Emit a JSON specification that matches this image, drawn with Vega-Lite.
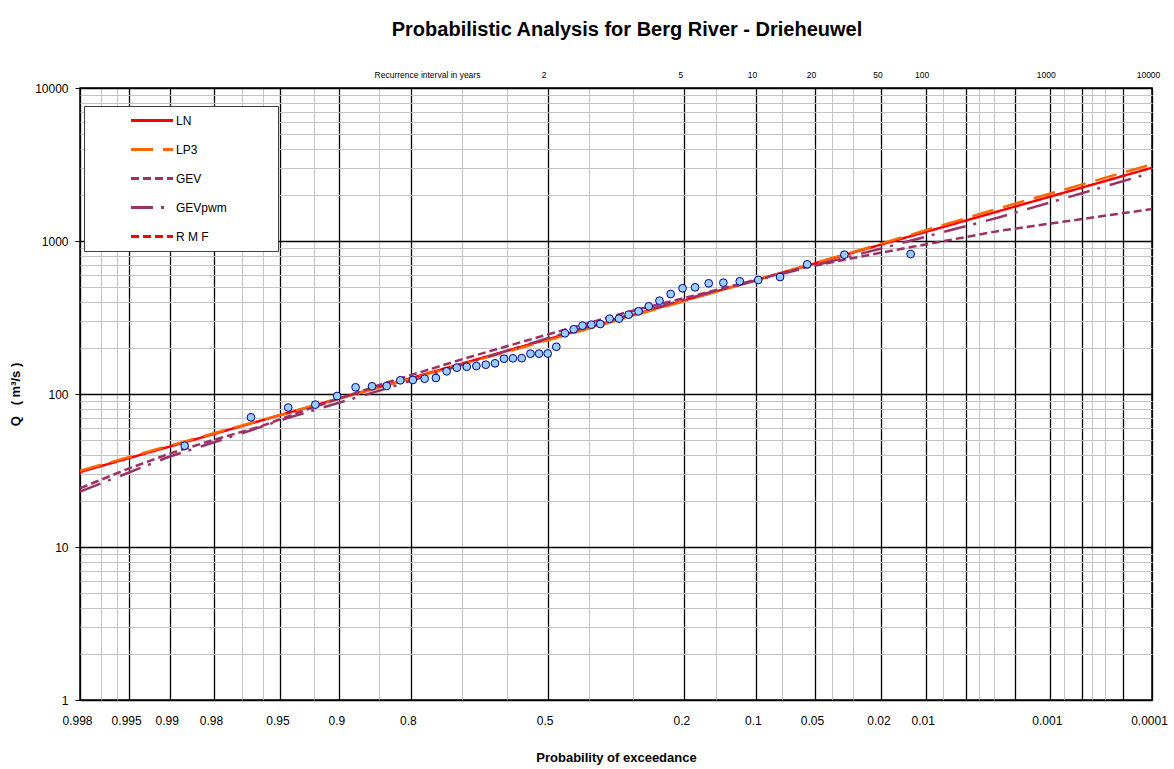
{
  "$schema": "https://vega.github.io/schema/vega-lite/v6.json",
  "width": 1072,
  "height": 612,
  "autosize": {"type": "none"},
  "padding": {"left": 80, "top": 88, "right": 22, "bottom": 69},
  "background": "white",
  "config": {
    "font": "Liberation Sans",
    "view": {"stroke": "black", "strokeWidth": 1.5}
  },
  "title": {
    "text": "Probabilistic Analysis for Berg River - Drieheuwel",
    "font": "Liberation Sans",
    "fontSize": 20,
    "fontWeight": "bold",
    "color": "black",
    "anchor": "middle",
    "dx": 11,
    "baseline": "alphabetic",
    "offset": 14
  },
  "datasets": {
    "curves": [
      {"series": "LN", "z": -2.8782, "q": 30.9},
      {"series": "LN", "z": -2, "q": 56.9},
      {"series": "LN", "z": -1, "q": 113.9},
      {"series": "LN", "z": 0, "q": 228},
      {"series": "LN", "z": 1, "q": 456.6},
      {"series": "LN", "z": 2, "q": 914},
      {"series": "LN", "z": 3, "q": 1830},
      {"series": "LN", "z": 3.719, "q": 3013},
      {"series": "LP3", "z": -2.8782, "q": 31.5},
      {"series": "LP3", "z": -2, "q": 57.5},
      {"series": "LP3", "z": -1, "q": 113},
      {"series": "LP3", "z": 0, "q": 224},
      {"series": "LP3", "z": 1, "q": 453},
      {"series": "LP3", "z": 2, "q": 925},
      {"series": "LP3", "z": 2.78, "q": 1640},
      {"series": "LP3", "z": 3.719, "q": 3170},
      {"series": "GEV", "z": -2.8782, "q": 24.2},
      {"series": "GEV", "z": -2.6, "q": 31.9},
      {"series": "GEV", "z": -2.33, "q": 40.7},
      {"series": "GEV", "z": -2.06, "q": 50.0},
      {"series": "GEV", "z": -1.77, "q": 61.2},
      {"series": "GEV", "z": -1.5, "q": 78},
      {"series": "GEV", "z": -1, "q": 118},
      {"series": "GEV", "z": -0.5, "q": 172},
      {"series": "GEV", "z": 0, "q": 245},
      {"series": "GEV", "z": 0.5, "q": 345},
      {"series": "GEV", "z": 0.976, "q": 460},
      {"series": "GEV", "z": 1.55, "q": 660},
      {"series": "GEV", "z": 2.04, "q": 835},
      {"series": "GEV", "z": 2.78, "q": 1165},
      {"series": "GEV", "z": 3.719, "q": 1618},
      {"series": "GEVpwm", "z": -2.8782, "q": 23.0},
      {"series": "GEVpwm", "z": -2.33, "q": 38.9},
      {"series": "GEVpwm", "z": -1.876, "q": 55.6},
      {"series": "GEVpwm", "z": -1.607, "q": 69.3},
      {"series": "GEVpwm", "z": -1, "q": 108},
      {"series": "GEVpwm", "z": 0, "q": 232},
      {"series": "GEVpwm", "z": 1, "q": 462},
      {"series": "GEVpwm", "z": 2.04, "q": 887},
      {"series": "GEVpwm", "z": 2.78, "q": 1429},
      {"series": "GEVpwm", "z": 3.719, "q": 2795}
    ],
    "obs": [
      {"z": -2.234, "q": 45.9}, {"z": -1.826, "q": 70.4}, {"z": -1.597, "q": 81.6},
      {"z": -1.430, "q": 85.2}, {"z": -1.296, "q": 97.0}, {"z": -1.182, "q": 110.6},
      {"z": -1.081, "q": 112.3}, {"z": -0.991, "q": 112.8}, {"z": -0.907, "q": 122.9},
      {"z": -0.830, "q": 123.5}, {"z": -0.757, "q": 125.9}, {"z": -0.688, "q": 127.3},
      {"z": -0.622, "q": 140.7}, {"z": -0.559, "q": 148.6}, {"z": -0.498, "q": 150.7},
      {"z": -0.439, "q": 152.4}, {"z": -0.381, "q": 155.4}, {"z": -0.324, "q": 158.7},
      {"z": -0.269, "q": 170.1}, {"z": -0.214, "q": 171.1}, {"z": -0.160, "q": 171.5},
      {"z": -0.106, "q": 183.4}, {"z": -0.053, "q": 183.6}, {"z": 0, "q": 184},
      {"z": 0.053, "q": 203.5}, {"z": 0.106, "q": 249.3}, {"z": 0.160, "q": 264.8},
      {"z": 0.214, "q": 279.6}, {"z": 0.269, "q": 283.8}, {"z": 0.324, "q": 286.8},
      {"z": 0.381, "q": 310.6}, {"z": 0.439, "q": 311}, {"z": 0.498, "q": 329.9},
      {"z": 0.559, "q": 347.1}, {"z": 0.622, "q": 374.3}, {"z": 0.688, "q": 407.3},
      {"z": 0.757, "q": 450.4}, {"z": 0.830, "q": 490.8}, {"z": 0.907, "q": 498.3},
      {"z": 0.991, "q": 529}, {"z": 1.081, "q": 533.9}, {"z": 1.182, "q": 545.2},
      {"z": 1.296, "q": 556.2}, {"z": 1.430, "q": 581.9}, {"z": 1.597, "q": 704.2},
      {"z": 1.826, "q": 813.8}, {"z": 2.234, "q": 822.2}
    ]
  },
  "layer": [
    {
      "data": {"name": "curves"},
      "mark": {"type": "line", "strokeWidth": 2.5, "clip": true},
      "encoding": {
        "x": {
          "field": "z",
          "type": "quantitative",
          "scale": {"domain": [-2.8782, 3.719], "nice": false, "zero": false},
          "axis": {
            "orient": "bottom",
            "title": "Probability of exceedance",
            "titleFontSize": 13,
            "titleFontWeight": "bold",
            "titleColor": "black",
            "titlePadding": 25,
            "values": [-2.8782, -2.7478, -2.6521, -2.5758, -2.3263, -2.0537, -1.8808, -1.7507, -1.6449, -1.4395, -1.2816, -1.0364, -0.8416, -0.5244, -0.2533, 0, 0.2533, 0.5244, 0.8416, 1.0364, 1.2816, 1.4395, 1.6449, 1.7507, 1.8808, 2.0537, 2.3263, 2.4324, 2.5758, 2.6521, 2.7478, 2.8782, 3.0902, 3.1747, 3.2905, 3.3528, 3.4316, 3.5401, 3.719],
            "labelExpr": "datum.value == -2.8782 ? '0.998' : datum.value == -2.5758 ? '0.995' : datum.value == -2.3263 ? '0.99' : datum.value == -2.0537 ? '0.98' : datum.value == -1.6449 ? '0.95' : datum.value == -1.2816 ? '0.9' : datum.value == -0.8416 ? '0.8' : datum.value == 0 ? '0.5' : datum.value == 0.8416 ? '0.2' : datum.value == 1.2816 ? '0.1' : datum.value == 1.6449 ? '0.05' : datum.value == 2.0537 ? '0.02' : datum.value == 2.3263 ? '0.01' : datum.value == 3.0902 ? '0.001' : datum.value == 3.719 ? '0.0001' : ''",
            "labelFontSize": 12,
            "labelColor": "black",
            "labelPadding": 15,
            "labelOffset": -3,
            "labelOverlap": false,
            "labelFlush": false,
            "labelBound": false,
            "ticks": false,
            "domain": false,
            "grid": true,
            "gridColor": {"condition": {"test": "indexof([-2.8782, -2.5758, -2.3263, -2.0537, -1.6449, -1.2816, -0.8416, 0, 0.8416, 1.2816, 1.6449, 2.0537, 2.3263, 2.5758, 2.8782, 3.0902, 3.2905, 3.5401, 3.719], datum.value) >= 0", "value": "black"}, "value": "#C4C4C4"},
            "gridWidth": {"condition": {"test": "indexof([-2.8782, -2.5758, -2.3263, -2.0537, -1.6449, -1.2816, -0.8416, 0, 0.8416, 1.2816, 1.6449, 2.0537, 2.3263, 2.5758, 2.8782, 3.0902, 3.2905, 3.5401, 3.719], datum.value) >= 0", "value": 1.3}, "value": 1}
          }
        },
        "y": {
          "field": "q",
          "type": "quantitative",
          "scale": {"type": "log", "domain": [1, 10000], "nice": false},
          "axis": {
            "title": "Q\u00a0\u00a0\u00a0(\u00a0m³/s\u00a0)",
            "titleFontSize": 13,
            "titleFontWeight": "bold",
            "titleColor": "black",
            "titlePadding": 12,
            "values": [1, 2, 3, 4, 5, 6, 7, 8, 9, 10, 20, 30, 40, 50, 60, 70, 80, 90, 100, 200, 300, 400, 500, 600, 700, 800, 900, 1000, 2000, 3000, 4000, 5000, 6000, 7000, 8000, 9000, 10000],
            "labelExpr": "indexof([1, 10, 100, 1000, 10000], datum.value) >= 0 ? '' + datum.value : ''",
            "labelFontSize": 12,
            "labelColor": "black",
            "labelPadding": 7,
            "labelOverlap": false,
            "labelFlush": false,
            "labelBound": false,
            "domain": false,
            "tickSize": 5,
            "tickColor": "black",
            "tickOpacity": {"condition": {"test": "indexof([1, 10, 100, 1000, 10000], datum.value) >= 0", "value": 1}, "value": 0},
            "grid": true,
            "gridColor": {"condition": {"test": "indexof([1, 10, 100, 1000, 10000], datum.value) >= 0", "value": "black"}, "value": "#C4C4C4"},
            "gridWidth": {"condition": {"test": "indexof([1, 10, 100, 1000, 10000], datum.value) >= 0", "value": 1.3}, "value": 1}
          }
        },
        "color": {
          "field": "series",
          "type": "nominal",
          "scale": {"domain": ["LN", "LP3", "GEV", "GEVpwm", "R M F"], "range": ["#FF0000", "#FF6600", "#993366", "#993366", "#FF0000"]},
          "legend": {
            "title": null,
            "orient": "none",
            "legendX": 4,
            "legendY": 18,
            "direction": "vertical",
            "symbolType": "M6.5,0H14.9M32.9,0H32.901",
            "symbolSize": 100,
            "symbolStrokeWidth": 3,
            "symbolFillColor": "transparent",
            "labelFontSize": 12,
            "labelColor": "black",
            "labelOffset": 71,
            "rowPadding": 16,
            "padding": 8,
            "strokeColor": "#404040",
            "fillColor": "white"
          }
        },
        "strokeDash": {
          "field": "series",
          "type": "nominal",
          "scale": {"domain": ["LN", "LP3", "GEV", "GEVpwm", "R M F"], "range": [[1, 0], [22, 10], [8, 4], [22, 8, 3, 10], [8, 4]]},
          "legend": {
            "title": null,
            "orient": "none",
            "legendX": 4,
            "legendY": 18,
            "direction": "vertical",
            "symbolType": "M6.5,0H14.9M32.9,0H32.901",
            "symbolSize": 100,
            "symbolStrokeWidth": 3,
            "symbolFillColor": "transparent",
            "labelFontSize": 12,
            "labelColor": "black",
            "labelOffset": 71,
            "rowPadding": 16,
            "padding": 8,
            "strokeColor": "#404040",
            "fillColor": "white"
          }
        }
      }
    },
    {
      "data": {"name": "obs"},
      "mark": {"type": "circle", "fill": "#99CCFF", "stroke": "#000080", "strokeWidth": 1, "opacity": 1, "size": 60},
      "encoding": {
        "x": {
          "field": "z",
          "type": "quantitative",
          "axis": {
            "orient": "top",
            "title": "Recurrence interval in years",
            "titleFont": "Liberation Sans Narrow, Liberation Sans",
            "titleFontSize": 8.5,
            "titleFontWeight": "normal",
            "titleColor": "black",
            "titleX": 347,
            "titleY": -14,
            "titleAlign": "center",
            "titleBaseline": "middle",
            "titleAnchor": null,
            "values": [0, 0.8416, 1.2816, 1.6449, 2.0537, 2.3263, 3.0902, 3.719],
            "labelExpr": "datum.value == 0 ? '2' : datum.value == 0.8416 ? '5' : datum.value == 1.2816 ? '10' : datum.value == 1.6449 ? '20' : datum.value == 2.0537 ? '50' : datum.value == 2.3263 ? '100' : datum.value == 3.0902 ? '1000' : '10000'",
            "labelFont": "Liberation Sans Narrow, Liberation Sans",
            "labelFontSize": 8.5,
            "labelColor": "black",
            "labelPadding": 9,
            "labelOffset": -4,
            "labelOverlap": false,
            "labelFlush": false,
            "labelBound": false,
            "ticks": false,
            "domain": false,
            "grid": false
          }
        },
        "y": {"field": "q", "type": "quantitative"}
      }
    }
  ],
  "resolve": {"axis": {"x": "independent"}}
}
